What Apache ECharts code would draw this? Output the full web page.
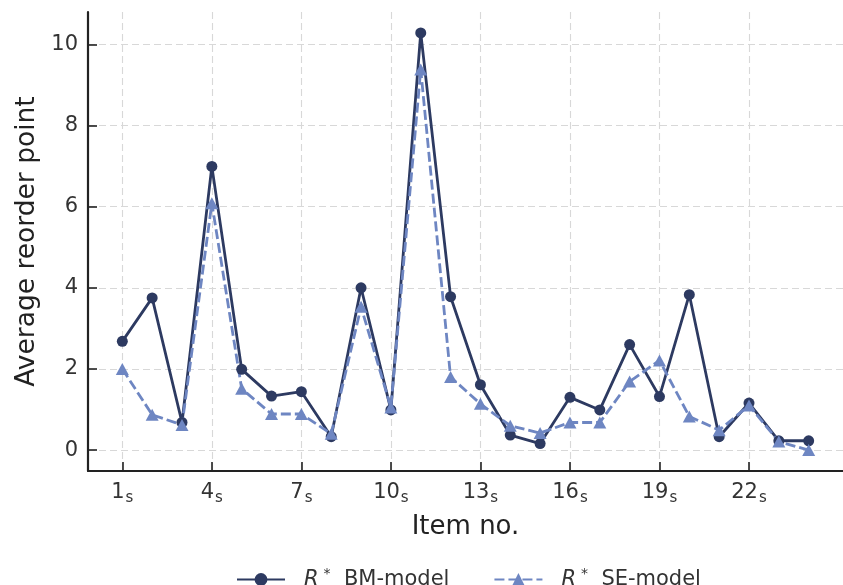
<!DOCTYPE html>
<html>
<head>
<meta charset="utf-8">
<script src="https://cdn.jsdelivr.net/npm/echarts@6/dist/echarts.min.js"></script>
<style>
html,body{margin:0;padding:0;background:#fff;}
#c{width:843px;height:585px;}
</style>
</head>
<body>
<div id="c"></div>
<script>
const items = [1,2,3,4,5,6,7,8,9,10,11,12,13,14,15,16,17,18,19,20,21,22,23,24];
const bmValues = [2.68, 3.75, 0.68, 6.99, 1.99, 1.33, 1.44, 0.33, 4.00, 0.99, 10.28, 3.78, 1.61, 0.37, 0.16, 1.30, 0.99, 2.60, 1.32, 3.83, 0.33, 1.16, 0.23, 0.23];
const seValues = [2.00, 0.87, 0.62, 6.08, 1.51, 0.89, 0.89, 0.40, 3.53, 1.05, 9.38, 1.80, 1.14, 0.60, 0.42, 0.68, 0.68, 1.69, 2.21, 0.83, 0.49, 1.10, 0.21, 0.00];
const xTicks = [1,4,7,10,13,16,19,22];
const yTicks = [0,2,4,6,8,10];
const seriesNames = ['BM-model', 'SE-model'];

const font = 'DejaVu Sans';
const chart = echarts.init(document.getElementById('c'), null, {renderer:'canvas'});
const bmData = items.map((x,i)=>[x,bmValues[i]]);
const seData = items.map((x,i)=>[x,seValues[i]]);
const gridLine = {show:true, lineStyle:{color:'#d8d8d8', type:[7,4], width:1.1}};

chart.setOption({
  animation:false,
  backgroundColor:'#ffffff',
  grid:{left:88, top:12, width:761, height:459, containLabel:false},
  xAxis:{
    type:'value', min:-0.15, max:25.15,
    name:'Item no.', nameLocation:'middle', nameGap:43,
    nameTextStyle:{fontFamily:font, fontSize:26, color:'#222'},
    axisLine:{show:true, onZero:false, lineStyle:{color:'#222', width:2.2}},
    axisTick:{show:true, inside:true, length:9, customValues:xTicks, lineStyle:{color:'#222', width:1.6}},
    axisLabel:{customValues:xTicks, margin:11,
      formatter:(v)=>'{n|'+v+'}{s|s}',
      rich:{
        n:{fontFamily:font, fontSize:21, color:'#333', lineHeight:22, verticalAlign:'top'},
        s:{fontFamily:font, fontSize:15, color:'#333', lineHeight:15, verticalAlign:'top', padding:[9,0,0,1]}
      }},
    splitLine:Object.assign({customValues:xTicks}, gridLine)
  },
  yAxis:{
    type:'value', min:-0.515, max:10.795,
    name:'Average reorder point', nameLocation:'middle', nameGap:43, nameRotate:90,
    nameTextStyle:{fontFamily:font, fontSize:26.5, color:'#222'},
    axisLine:{show:true, onZero:false, lineStyle:{color:'#222', width:2.2}},
    axisTick:{show:true, inside:true, length:9, customValues:yTicks, lineStyle:{color:'#222', width:1.6}},
    axisLabel:{customValues:yTicks, margin:10, fontFamily:font, fontSize:21, color:'#333'},
    splitLine:Object.assign({customValues:yTicks}, gridLine)
  },
  legend:{
    bottom:-10, left:231,
    itemWidth:48, itemHeight:16, itemGap:44,
    data:seriesNames,
    formatter:(n)=>'{r|R}{p|*}{t|  '+n+'}',
    textStyle:{
      rich:{
        r:{fontFamily:font, fontStyle:'italic', fontSize:21, color:'#333', padding:[0,0,0,14]},
        p:{fontFamily:font, fontSize:14, color:'#333', padding:[0,0,10,5]},
        t:{fontFamily:font, fontSize:21, color:'#333'}
      }
    }
  },
  series:[
    {
      name:seriesNames[0], type:'line', data:bmData,
      symbol:'circle', symbolSize:11, showSymbol:true,
      itemStyle:{color:'#2d3a61'},
      lineStyle:{color:'#2d3a61', width:2.8}
    },
    {
      name:seriesNames[1], type:'line', data:seData,
      symbol:'triangle', symbolSize:[13,12], showSymbol:true,
      itemStyle:{color:'#6e86c2'},
      lineStyle:{color:'#6e86c2', width:2.8, type:[10,4]}
    }
  ]
});
</script>
</body>
</html>
